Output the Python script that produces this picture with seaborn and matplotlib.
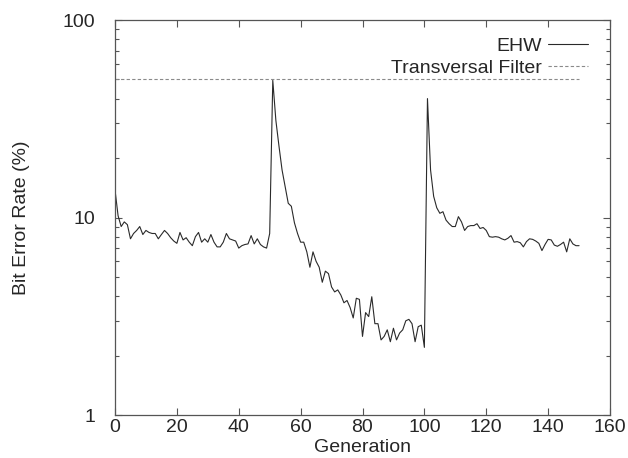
import numpy as np
import pandas as pd
import matplotlib
matplotlib.use("Agg")
import matplotlib.pyplot as plt
import seaborn as sns
from matplotlib.ticker import LogLocator, FixedLocator, FixedFormatter, NullFormatter

# ---- data ----
generations = list(range(0, 151))
ehw_ber = [
    13.8, 10.2, 9.0, 9.5, 9.2, 7.8, 8.3, 8.6, 9.0, 8.2,      # 0-9
    8.6, 8.4, 8.3, 8.3, 7.8, 8.2, 8.6, 8.3, 7.9, 7.6,        # 10-19
    7.4, 8.4, 7.7, 7.9, 7.5, 7.2, 8.0, 8.4, 7.5, 7.8,        # 20-29
    7.5, 8.2, 7.5, 7.1, 7.1, 7.5, 8.3, 7.8, 7.7, 7.6,        # 30-39
    7.0, 7.2, 7.3, 7.35, 8.1, 7.35, 7.8, 7.3, 7.1, 7.0,      # 40-49
    8.3, 49.5, 31.0, 23.0, 17.4, 14.3, 11.8, 11.4, 9.4, 8.3, # 50-59
    7.5, 7.5, 6.7, 5.6, 6.7, 6.0, 5.6, 4.7, 5.35, 5.2,       # 60-69
    4.45, 4.2, 4.3, 4.05, 3.7, 3.8, 3.5, 3.1, 3.9, 3.85,     # 70-79
    2.5, 3.3, 3.15, 3.97, 2.9, 2.9, 2.4, 2.5, 2.7, 2.35,     # 80-89
    2.75, 2.4, 2.6, 2.7, 3.0, 3.05, 2.9, 2.35, 2.8, 2.85,    # 90-99
    2.2, 40.0, 17.4, 12.8, 11.2, 10.5, 10.7, 9.7, 9.3, 9.0,  # 100-109
    9.0, 10.1, 9.5, 8.6, 9.0, 9.1, 9.1, 9.3, 8.8, 8.9,       # 110-119
    8.6, 8.0, 7.95, 8.0, 7.95, 7.8, 7.7, 7.85, 8.1, 7.5,     # 120-129
    7.55, 7.45, 7.1, 7.55, 7.8, 7.75, 7.6, 7.4, 6.8, 7.3,    # 130-139
    7.75, 7.7, 7.25, 7.15, 7.3, 7.5, 6.7, 7.8, 7.35, 7.2,    # 140-149
    7.2,                                                      # 150
]
tf_generations = [0, 150]
tf_ber = [50, 50]

x_ticks = [0, 20, 40, 60, 80, 100, 120, 140, 160]
y_ticks = [1, 10, 100]
y_tick_labels = ["1", "10", "100"]

ehw_df = pd.DataFrame({"Generation": generations, "BER": ehw_ber})
tf_df = pd.DataFrame({"Generation": tf_generations, "BER": tf_ber})

# ---- style ----
sns.set_style("ticks")
plt.rcParams["font.family"] = ["Liberation Sans", "DejaVu Sans"]

fig = plt.figure(figsize=(6.28, 4.58), dpi=100)
ax = fig.add_axes([115 / 628, 43 / 458, 495 / 628, 395 / 458])

sns.lineplot(data=ehw_df, x="Generation", y="BER", ax=ax, color="#2a2a2a",
             linewidth=0.8, label="EHW", legend=False)
sns.lineplot(data=tf_df, x="Generation", y="BER", ax=ax, color="#8a8a8a",
             linewidth=0.8, linestyle=(0, (3, 2)), label="Transversal Filter", legend=False)

ax.set_yscale("log")
ax.set_xlim(0, 160)
ax.set_ylim(1, 100)
ax.xaxis.set_major_locator(FixedLocator(x_ticks))
ax.yaxis.set_major_locator(FixedLocator(y_ticks))
ax.yaxis.set_major_formatter(FixedFormatter(y_tick_labels))
ax.yaxis.set_minor_locator(LogLocator(base=10, subs=np.arange(2, 10)))
ax.yaxis.set_minor_formatter(NullFormatter())

for s in ax.spines.values():
    s.set_color("#555555")
    s.set_linewidth(0.9)

ax.tick_params(axis="both", which="both", direction="in", top=True, right=True,
               color="#555555", width=0.8)
ax.tick_params(axis="both", which="major", length=5, labelsize=14)
ax.tick_params(axis="x", which="major", pad=3)
ax.tick_params(axis="y", which="major", pad=14)
ax.tick_params(axis="y", which="minor", length=3)

ax.set_xlabel("Generation", fontsize=14, labelpad=2)
ax.set_ylabel("Bit Error Rate (%)", fontsize=14, labelpad=24)

lines = ax.get_lines()
leg1 = ax.legend([lines[0]], ["EHW"], loc="upper right", bbox_to_anchor=(0.956, 0.957),
                 frameon=False, markerfirst=False, fontsize=14, handlelength=2.06,
                 handletextpad=0.3, borderpad=0, borderaxespad=0)
ax.add_artist(leg1)
leg2 = ax.legend([lines[1]], ["Transversal Filter"], loc="upper right",
                 bbox_to_anchor=(0.956, 0.901), frameon=False, markerfirst=False,
                 fontsize=14, handlelength=2.06, handletextpad=0.3, borderpad=0,
                 borderaxespad=0)

fig.savefig("out.png", dpi=100)
